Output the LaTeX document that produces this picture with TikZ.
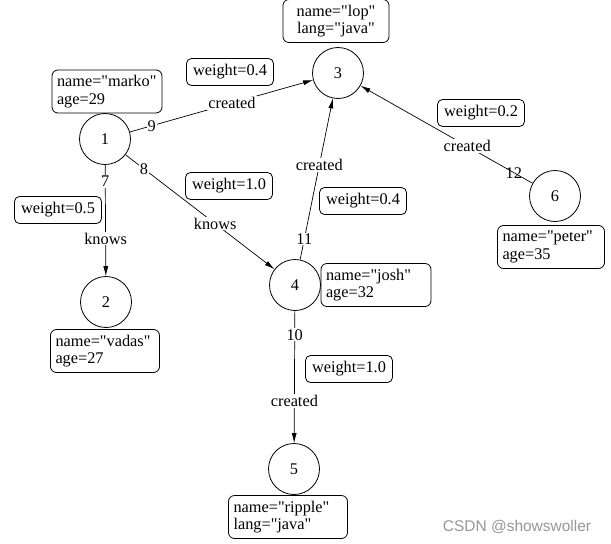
\documentclass[tikz,border=0pt]{standalone}
\usepackage{fontspec}
\setmainfont{Liberation Serif}[Ligatures=TeXOff]
\setsansfont{Liberation Sans}
\usetikzlibrary{arrows.meta,calc}
\definecolor{wmgray}{RGB}{150,150,150}
\begin{document}
\begin{tikzpicture}[x=1pt,y=-1pt,
  every node/.style={font=\fontsize{16.3}{17.5}\selectfont},
  vert/.style={circle,draw,line width=0.8pt,minimum size=51pt,inner sep=0pt},
  prop/.style={draw,rounded corners=6pt,line width=0.8pt,align=left,minimum height=43pt,inner xsep=5pt,inner ysep=4pt},
  wbox/.style={draw,rounded corners=5pt,line width=0.8pt,minimum width=87pt,minimum height=27pt,inner sep=2pt},
  lbl/.style={fill=white,inner sep=1pt},
  lblnf/.style={inner sep=1pt},
  edgeline/.style={draw,line width=0.7pt,-{Latex[length=10pt,width=5pt]}}
]
\useasboundingbox (0,0) rectangle (611,544);

% vertices
\node[vert] (v1) at (105,139) {1};
\node[vert] (v2) at (106,302) {2};
\node[vert] (v3) at (338,73) {3};
\node[vert] (v4) at (295,285) {4};
\node[vert] (v5) at (294,469) {5};
\node[vert] (v6) at (555,196) {6};

% property boxes
\node[prop,text width=100pt] (p1) at (107,91.5) {name="marko"\\age=29};
\node[prop,text width=96pt,align=center] (p3) at (336,21) {name="lop"\\lang="java"};
\node[prop,text width=97pt] (p6) at (551,247) {name="peter"\\age=35};
\node[prop,text width=100pt] (p4) at (376,285) {name="josh"\\age=32};
\node[prop,text width=99pt] (p2) at (105,351) {name="vadas"\\age=27};
\node[prop,text width=109pt] (p5) at (288,517) {name="ripple"\\lang="java"};

% weight boxes
\node[wbox] (w13) at (230,72) {weight=0.4};
\node[wbox] (w63) at (481,113) {weight=0.2};
\node[wbox] (w14) at (229,186) {weight=1.0};
\node[wbox] (w43) at (363,201) {weight=0.4};
\node[wbox] (w12) at (58,210) {weight=0.5};
\node[wbox] (w45) at (349,369) {weight=1.0};

% edges
\draw[edgeline] (v1) -- (v3);
\draw[edgeline] (v1) -- (v4);
\draw[edgeline] (v1) -- (v2);
\draw[edgeline] (v4) -- (v3);
\draw[edgeline] (v6) -- (v3);
\draw[edgeline] (v4) -- (v5);

% edge labels
\node[lbl] (e9) at ($(v1)!0.2!(v3)$) {9};
\node[lbl] (e9c) at ($(v1)!0.545!(v3)$) {created};
\node[lbl] (e8) at ($(v1)!0.205!(v4)$) {8};
\node[lbl] (e8k) at ($(v1)!0.58!(v4)$) {knows};
\node[lbl] (e7) at ($(v1)!0.26!(v2)$) {7};
\node[lbl] (e7k) at ($(v1)!0.61!(v2)$) {knows};
\node[lbl] (e11) at ($(v4)!0.217!(v3)$) {11};
\node[lbl] (e11c) at ($(v4)!0.566!(v3)$) {created};
\node[lblnf] (e12) at ($(v6)!0.19!(v3)$) {12};
\node[lbl] (e12c) at ($(v6)!0.405!(v3)$) {created};
\node[lbl] (e10) at ($(v4)!0.27!(v5)$) {10};
\node[lbl] (e10c) at ($(v4)!0.63!(v5)$) {created};

% watermark
\node[font=\fontsize{15.5}{18}\selectfont\sffamily,text=wmgray] (wm) at (517,527) {CSDN @showswoller};
\end{tikzpicture}
\end{document}
